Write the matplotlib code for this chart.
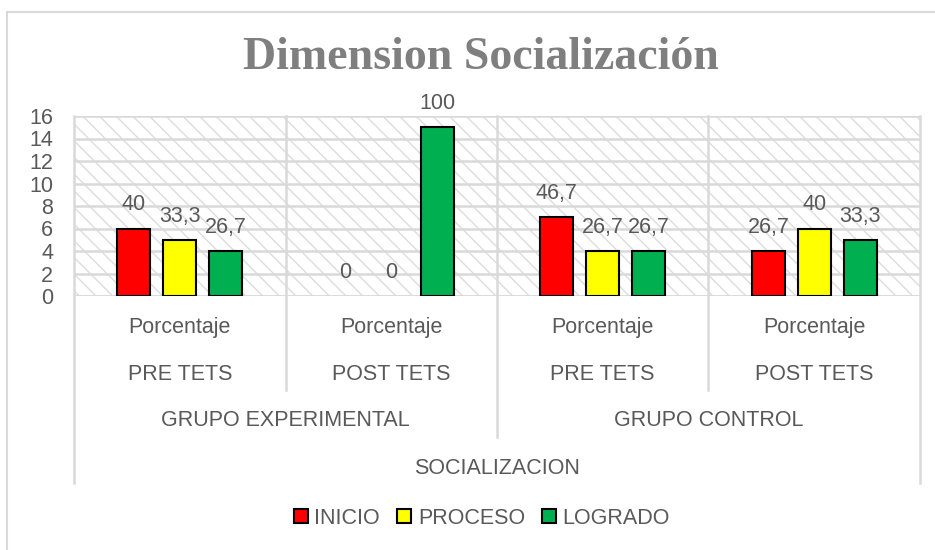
import matplotlib
matplotlib.use("Agg")
import matplotlib.pyplot as plt
import matplotlib.transforms as mtransforms
from matplotlib.patches import Rectangle, Patch
from matplotlib.lines import Line2D

# data
groups = ["GRUPO EXPERIMENTAL", "GRUPO CONTROL"]
tests = ["PRE TETS", "POST TETS", "PRE TETS", "POST TETS"]
measure = "Porcentaje"
dimension = "SOCIALIZACION"
series = ["INICIO", "PROCESO", "LOGRADO"]
inicio = [6, 0, 7, 4]
proceso = [5, 0, 4, 6]
logrado = [4, 15, 4, 5]
inicio_pct = ["40", "0", "46,7", "26,7"]
proceso_pct = ["33,3", "0", "26,7", "40"]
logrado_pct = ["26,7", "100", "26,7", "33,3"]

colors = ["#FF0000", "#FFFF00", "#00B050"]
grid_c = "#d9d9d9"
text_c = "#595959"
W, H = 935, 550
fs = 15.5

plt.rcParams["font.family"] = ["Liberation Sans", "DejaVu Sans"]
plt.rcParams["hatch.linewidth"] = 1.0
plt.rcParams["hatch.color"] = "#dcdcdc"

fig = plt.figure(figsize=(W / 100, H / 100), dpi=100)
ax = fig.add_axes([74 / W, 1 - 296 / H, (920 - 74) / W, (296 - 116) / H])

# hatched plot area
ax.add_patch(Rectangle((0, 0), 1, 1, transform=ax.transAxes, facecolor="white",
                       edgecolor="#dcdcdc", hatch="\\\\", lw=0, zorder=0))

x0 = [i + 0.5 for i in range(len(tests))]
offs = [-0.217, 0, 0.217]
vals = [inicio, proceso, logrado]
labs = [inicio_pct, proceso_pct, logrado_pct]
for k in range(3):
    xs = [x + offs[k] for x in x0]
    ec = ["black" if v > 0 else "none" for v in vals[k]]
    ax.bar(xs, vals[k], width=0.156, color=colors[k], edgecolor=ec, lw=1.5, zorder=3)
    for x, v, t in zip(xs, vals[k], labs[k]):
        ax.annotate(t, (x, v), xytext=(0, 17), textcoords="offset points",
                    ha="center", va="center", fontsize=fs, color=text_c)

ax.set_xlim(0, 4)
ax.set_ylim(0, 16)
ax.set_yticks(range(0, 17, 2))
ax.yaxis.grid(True, color=grid_c, lw=1.8, zorder=1)
ax.set_axisbelow(True)
ax.tick_params(axis="y", length=0, pad=15, labelsize=fs, labelcolor=text_c)
ax.set_xticks([])
for s in ax.spines.values():
    s.set_visible(False)
ax.axhline(0, color=grid_c, lw=1.8, zorder=2)

# multi level category axis
tr = mtransforms.blended_transform_factory(ax.transData, fig.transFigure)
fy = lambda py: 1 - py / H
bottoms = [483, 390, 437, 390, 483]
for i, b in enumerate(bottoms):
    ax.add_line(Line2D([i, i], [fy(116), fy(b)], transform=tr, color=grid_c,
                       lw=1.8, clip_on=False, zorder=2))
for i, x in enumerate(x0):
    ax.text(x, fy(327), measure, transform=tr, ha="center", va="center",
            fontsize=fs, color=text_c)
    ax.text(x, fy(375), tests[i], transform=tr, ha="center", va="center",
            fontsize=fs, color=text_c)
for j, g in enumerate(groups):
    ax.text(2 * j + 1, fy(421), g, transform=tr, ha="center", va="center",
            fontsize=fs, color=text_c)
ax.text(2, fy(468), dimension, transform=tr, ha="center", va="center",
        fontsize=fs, color=text_c)

# title
fig.text(481 / W, fy(58), "Dimension Socialización", ha="center", va="center",
         fontsize=33, fontweight="bold", color="#7f7f7f",
         family=["Liberation Serif", "DejaVu Serif"])

# legend
handles = [Patch(facecolor=c, edgecolor="black", lw=1.5) for c in colors]
fig.legend(handles, series, loc="center", bbox_to_anchor=(482 / W, fy(518)), ncol=3,
           frameon=False, handlelength=0.65, handleheight=0.65, handletextpad=0.3,
           columnspacing=0.8, prop={"size": fs}, labelcolor=text_c)

# chart frame
fig.add_artist(Line2D([7 / W, 1], [fy(12), fy(12)], color=grid_c, lw=1.5))
fig.add_artist(Line2D([7 / W, 7 / W], [fy(12), 0], color=grid_c, lw=1.5))

fig.savefig("out.png", dpi=100)
